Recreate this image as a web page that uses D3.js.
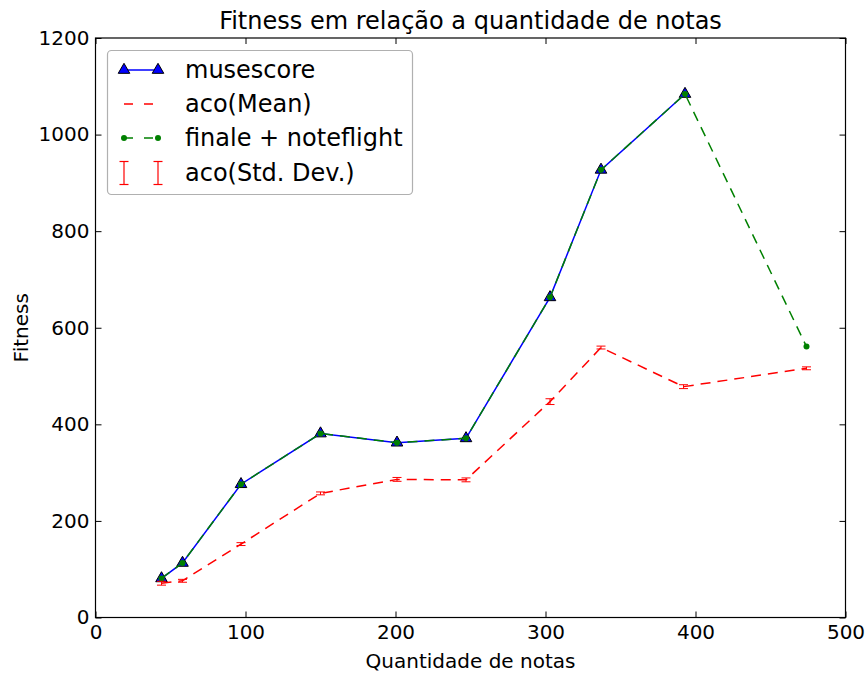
<!DOCTYPE html>
<html>
<head>
<meta charset="utf-8">
<script src="https://cdn.jsdelivr.net/npm/d3@7"></script>
<style>
  html, body { margin: 0; padding: 0; background: #fff; }
  svg { display: block; font-family: "DejaVu Sans", sans-serif; }
</style>
</head>
<body>
<svg id="chart" width="866" height="673"></svg>
<script>
// Number of notes per piece (x) and fitness values (y)
const notes = [44, 58, 97, 150, 201, 247, 303, 337, 393];
const musescore = [81, 113, 276, 381, 362, 371, 663, 927, 1084];
const finaleNotes = [44, 58, 97, 150, 201, 247, 303, 337, 393, 474];
const finale = [81, 113, 276, 381, 362, 371, 663, 927, 1084, 561];
const acoNotes = [44, 58, 97, 150, 201, 247, 303, 337, 392, 474];
const acoMean = [71, 76, 152, 257, 286, 285, 447, 559, 478, 516];
const acoStd = [4, 3, 3, 3, 4, 4, 6, 3, 4, 3];
const xTicks = [0, 100, 200, 300, 400, 500];
const yTicks = [0, 200, 400, 600, 800, 1000, 1200];

(function () {
const svg = d3.select("#chart");
const pLeft = 95.5, pRight = 845.5, pTop = 38, pBottom = 617.5;

const x = d3.scaleLinear().domain([0, 500]).range([pLeft, pRight]);
const y = d3.scaleLinear().domain([0, 1200]).range([pBottom, pTop]);

// Axes with inward ticks on all four sides
const tickLen = 6;
svg.append("g").attr("transform", `translate(0,${pBottom})`)
  .call(d3.axisBottom(x).tickValues(xTicks).tickFormat(d3.format("d"))
    .tickSizeInner(-tickLen).tickSizeOuter(0).tickPadding(7))
  .call(g => g.select(".domain").remove());
svg.append("g").attr("transform", `translate(0,${pTop})`)
  .call(d3.axisTop(x).tickValues(xTicks).tickSizeInner(-tickLen).tickSizeOuter(0).tickFormat(""))
  .call(g => g.select(".domain").remove());
svg.append("g").attr("transform", `translate(${pLeft},0)`)
  .call(d3.axisLeft(y).tickValues(yTicks).tickFormat(d3.format("d"))
    .tickSizeInner(-tickLen).tickSizeOuter(0).tickPadding(6))
  .call(g => g.select(".domain").remove());
svg.append("g").attr("transform", `translate(${pRight},0)`)
  .call(d3.axisRight(y).tickValues(yTicks).tickSizeInner(-tickLen).tickSizeOuter(0).tickFormat(""))
  .call(g => g.select(".domain").remove());

svg.selectAll(".tick text").attr("font-size", 20).attr("fill", "#000")
  .attr("font-family", "DejaVu Sans, sans-serif");
svg.selectAll(".tick line").attr("stroke", "#000").attr("stroke-width", 1);

const plot = svg.append("g");

// musescore: solid blue line with triangle markers
const lineMs = d3.line().x((d, i) => x(notes[i])).y(d => y(d));
plot.append("path").attr("d", lineMs(musescore))
  .attr("fill", "none").attr("stroke", "#0000ff").attr("stroke-width", 1.5);
const tri = d3.symbol().type(d3.symbolTriangle).size(58);
plot.selectAll(".ms").data(musescore).join("path")
  .attr("transform", (d, i) => `translate(${x(notes[i])},${y(d)})`)
  .attr("d", tri).attr("fill", "#0000ff").attr("stroke", "#000").attr("stroke-width", 1);

// aco mean: red dashed line
const lineAco = d3.line().x((d, i) => x(acoNotes[i])).y(d => y(d));
plot.append("path").attr("d", lineAco(acoMean))
  .attr("fill", "none").attr("stroke", "#ff0000").attr("stroke-width", 1.5)
  .attr("stroke-dasharray", "10,7");

// finale + noteflight: green dashed line with dot markers
const lineFn = d3.line().x((d, i) => x(finaleNotes[i])).y(d => y(d));
plot.append("path").attr("d", lineFn(finale))
  .attr("fill", "none").attr("stroke", "#008000").attr("stroke-width", 1.5)
  .attr("stroke-dasharray", "10,7");
plot.selectAll(".fn").data(finale).join("circle")
  .attr("cx", (d, i) => x(finaleNotes[i])).attr("cy", d => y(d))
  .attr("r", 3).attr("fill", "#008000");

// aco std dev: red error bars with caps
const cap = 4.5;
const eb = plot.selectAll(".eb").data(acoMean).join("g")
  .attr("stroke", "#ff0000").attr("stroke-width", 1);
eb.append("line")
  .attr("x1", (d, i) => x(acoNotes[i])).attr("x2", (d, i) => x(acoNotes[i]))
  .attr("y1", (d, i) => y(d - acoStd[i])).attr("y2", (d, i) => y(d + acoStd[i]));
eb.append("line")
  .attr("x1", (d, i) => x(acoNotes[i]) - cap).attr("x2", (d, i) => x(acoNotes[i]) + cap)
  .attr("y1", (d, i) => y(d - acoStd[i])).attr("y2", (d, i) => y(d - acoStd[i]));
eb.append("line")
  .attr("x1", (d, i) => x(acoNotes[i]) - cap).attr("x2", (d, i) => x(acoNotes[i]) + cap)
  .attr("y1", (d, i) => y(d + acoStd[i])).attr("y2", (d, i) => y(d + acoStd[i]));

// Axes frame
svg.append("rect").attr("x", pLeft).attr("y", pTop)
  .attr("width", pRight - pLeft).attr("height", pBottom - pTop)
  .attr("fill", "none").attr("stroke", "#000").attr("stroke-width", 1.2);

// Titles
svg.append("text").attr("x", (pLeft + pRight) / 2).attr("y", 28.5)
  .attr("text-anchor", "middle").attr("font-size", 24)
  .text("Fitness em relação a quantidade de notas");
svg.append("text").attr("x", (pLeft + pRight) / 2).attr("y", 668)
  .attr("text-anchor", "middle").attr("font-size", 20)
  .text("Quantidade de notas");
svg.append("text").attr("transform", `translate(28,${(pTop + pBottom) / 2}) rotate(-90)`)
  .attr("text-anchor", "middle").attr("font-size", 20)
  .text("Fitness");

// Legend
const leg = svg.append("g");
leg.append("rect").attr("x", 107.5).attr("y", 50.5).attr("width", 305).attr("height", 144)
  .attr("rx", 4).attr("fill", "#fff").attr("stroke", "#b0b0b0").attr("stroke-width", 1.2);
const rows = [70, 104, 138, 173];
const hx1 = 124, hx2 = 158, tx = 185;
// musescore entry
leg.append("line").attr("x1", hx1).attr("x2", hx2).attr("y1", rows[0]).attr("y2", rows[0])
  .attr("stroke", "#0000ff").attr("stroke-width", 1.5);
[hx1, hx2].forEach(px => leg.append("path").attr("d", tri)
  .attr("transform", `translate(${px},${rows[0]})`)
  .attr("fill", "#0000ff").attr("stroke", "#000").attr("stroke-width", 1));
// aco(Mean) entry
leg.append("line").attr("x1", hx1).attr("x2", hx2).attr("y1", rows[1]).attr("y2", rows[1])
  .attr("stroke", "#ff0000").attr("stroke-width", 1.5).attr("stroke-dasharray", "9,11");
// finale entry
leg.append("line").attr("x1", hx1).attr("x2", hx2).attr("y1", rows[2]).attr("y2", rows[2])
  .attr("stroke", "#008000").attr("stroke-width", 1.5).attr("stroke-dasharray", "9,11");
[hx1, hx2].forEach(px => leg.append("circle").attr("cx", px).attr("cy", rows[2])
  .attr("r", 3).attr("fill", "#008000"));
// std dev entry
[hx1, hx2].forEach(px => {
  const g = leg.append("g").attr("stroke", "#ff0000").attr("stroke-width", 1.2);
  g.append("line").attr("x1", px).attr("x2", px).attr("y1", rows[3] - 11.5).attr("y2", rows[3] + 11.5);
  g.append("line").attr("x1", px - cap).attr("x2", px + cap).attr("y1", rows[3] - 11.5).attr("y2", rows[3] - 11.5);
  g.append("line").attr("x1", px - cap).attr("x2", px + cap).attr("y1", rows[3] + 11.5).attr("y2", rows[3] + 11.5);
});
const labels = ["musescore", "aco(Mean)", "finale + noteflight", "aco(Std. Dev.)"];
labels.forEach((t, i) => leg.append("text").attr("x", tx).attr("y", rows[i])
  .attr("dy", "0.35em").attr("font-size", 24).text(t));
})();
</script>
</body>
</html>
